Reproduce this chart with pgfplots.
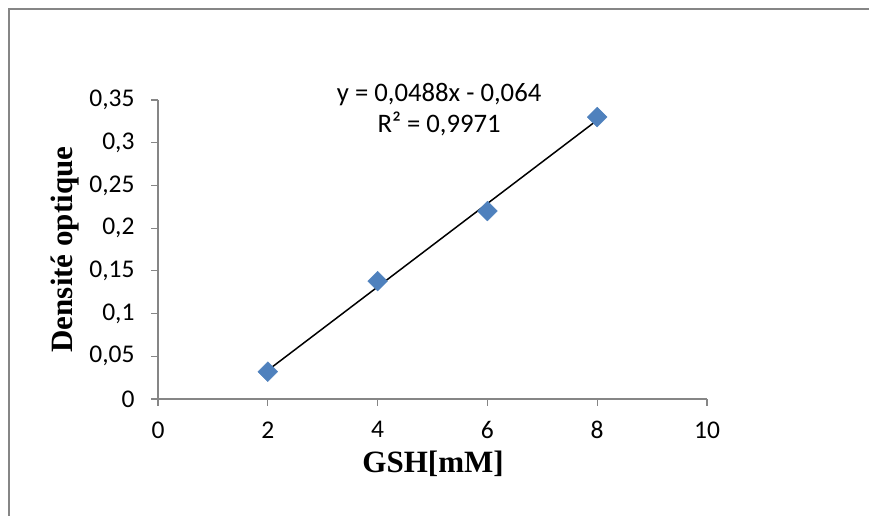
\documentclass[border=0pt]{standalone}
\usepackage{fontspec}
\setmainfont{Carlito}
\newfontfamily\tnr{Liberation Serif}
\usepackage{pgfplots}
\pgfplotsset{compat=1.18}
\definecolor{exblue}{HTML}{4F81BD}
\definecolor{axgray}{HTML}{868686}
\begin{document}
\begin{tikzpicture}[x=1pt,y=1pt]
\useasboundingbox (0,0) rectangle (869,516);
\begin{scope}
\clip (0,0) rectangle (869,516);
\draw[axgray,line width=1.6pt] (8.8,-5) -- (8.8,507.2) -- (880,507.2);
\end{scope}
\begin{axis}[
  at={(158pt,117pt)}, anchor=south west,
  scale only axis, width=549pt, height=299pt,
  xmin=0, xmax=10, ymin=0, ymax=0.35,
  xtick={0,2,...,10}, ytick={0,0.05,...,0.351},
  axis lines=left, axis line style={-, axgray, line width=1.2pt},
  tick style={axgray, line width=1.2pt},
  tick align=outside, major tick length=7pt,
  every tick label/.append style={font=\fontsize{25.5}{30}\selectfont, text=black},
  xticklabel style={yshift=-12pt},
  yticklabel style={xshift=-13pt},
  /pgf/number format/assume math mode=true,
  /pgf/number format/use comma,
  /pgf/number format/fixed, /pgf/number format/precision=2,
  xlabel={\tnr\bfseries GSH[mM]},
  ylabel={\tnr\bfseries Densité optique},
  xlabel style={font=\fontsize{31}{36}\selectfont, at={(axis description cs:0.501,-0.217)}, anchor=center},
  ylabel style={font=\fontsize{31}{36}\selectfont, at={(axis description cs:-0.169,0.5)}, anchor=center, rotate=0},
  clip=false,
]
\addplot[only marks, mark=square*, mark size=7pt, mark options={rotate=45, fill=exblue, draw=exblue}]
  coordinates {(2,0.032) (4,0.138) (6,0.22) (8,0.33)};
\addplot[black, line width=1.5pt] coordinates {(2,0.0336) (8,0.3264)};
\node[font=\fontsize{26.7}{30}\selectfont, anchor=center] at (axis cs:5.12,0.356) {y = 0,0488x - 0,064};
\node[font=\fontsize{26.7}{30}\selectfont, anchor=center] at (axis cs:5.12,0.322) {R² = 0,9971};
\end{axis}
\end{tikzpicture}
\end{document}
